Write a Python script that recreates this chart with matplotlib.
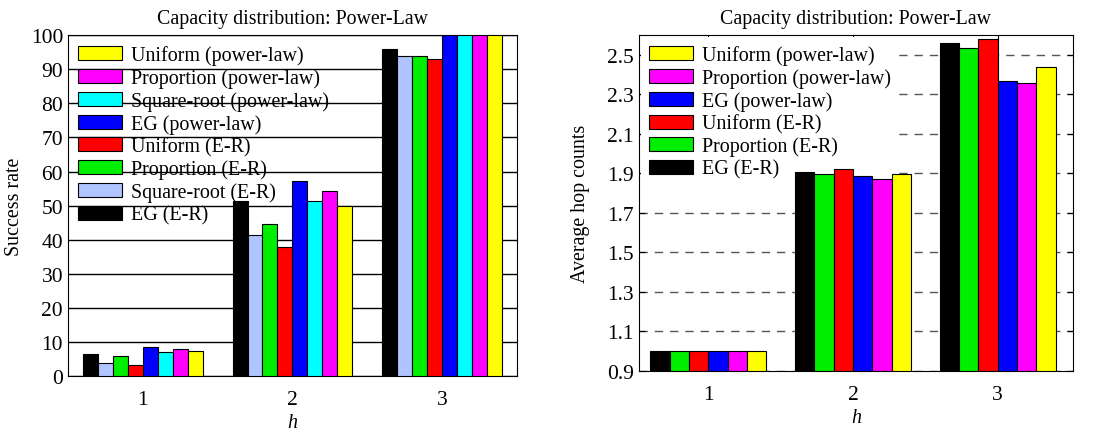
import matplotlib
matplotlib.use("Agg")
import matplotlib.pyplot as plt
import numpy as np

plt.rcParams['font.family'] = ['Liberation Serif', 'DejaVu Serif']
plt.rcParams['font.size'] = 14

h = [1, 2, 3]
title = "Capacity distribution: Power-Law"

# left: success rate (8 series, drawn left to right)
sr_labels = ["EG (E-R)", "Square-root (E-R)", "Proportion (E-R)", "Uniform (E-R)",
             "EG (power-law)", "Square-root (power-law)", "Proportion (power-law)",
             "Uniform (power-law)"]
sr_colors = ["#000000", "#b0c4ff", "#00ee00", "#ff0000", "#0000ff", "#00ffff",
             "#ff00ff", "#ffff00"]
sr_values = [
    [6.5, 51.5, 96],
    [4.0, 41.3, 94],
    [6.0, 44.5, 94],
    [3.2, 38.0, 93],
    [8.5, 57.3, 100],
    [7.0, 51.5, 100],
    [8.0, 54.3, 100],
    [7.5, 50.0, 100],
]

# right: average hop counts (6 series)
hop_labels = ["EG (E-R)", "Proportion (E-R)", "Uniform (E-R)", "EG (power-law)",
              "Proportion (power-law)", "Uniform (power-law)"]
hop_colors = ["#000000", "#00ee00", "#ff0000", "#0000ff", "#ff00ff", "#ffff00"]
hop_values = [
    [1.0, 1.905, 2.560],
    [1.0, 1.896, 2.535],
    [1.0, 1.921, 2.580],
    [1.0, 1.886, 2.369],
    [1.0, 1.871, 2.359],
    [1.0, 1.896, 2.440],
]

fig = plt.figure(figsize=(11.09, 4.35), dpi=100)
ax1 = fig.add_axes([0.0613, 0.133, 0.4047, 0.784])
ax2 = fig.add_axes([0.576, 0.145, 0.3915, 0.772])

x = np.array(h, dtype=float)


def draw_bars(ax, values, colors, labels, total=0.8, bottom=0):
    n = len(values)
    w = total / n
    handles = []
    for i in range(n):
        off = -total / 2 + w * (i + 0.5)
        vals = np.array(values[i]) - bottom
        b = ax.bar(x + off, vals, w, bottom=bottom, color=colors[i],
                   edgecolor="black", linewidth=0.8, label=labels[i], zorder=3)
        handles.append(b)
    return handles


leg_kw = dict(loc="upper left", handlelength=2.2, handleheight=0.7,
              labelspacing=0.16, handletextpad=0.45, borderaxespad=0.1,
              borderpad=0.4, fontsize=14.4)

# ---- left chart
hs1 = draw_bars(ax1, sr_values, sr_colors, sr_labels)
ax1.set_xlim(0.5, 3.5)
ax1.set_ylim(0, 100)
ax1.set_yticks(range(0, 101, 10))
ax1.set_xticks(h)
ax1.yaxis.grid(True, color="black", linewidth=1.0, zorder=0)
ax1.set_axisbelow(True)
ax1.tick_params(direction="in", length=0, labelsize=15.5)
ax1.tick_params(axis="x", pad=10)
ax1.set_title(title, fontsize=14.3, pad=9)
ax1.set_xlabel("h", style="italic", fontsize=14.4, labelpad=3)
ax1.set_ylabel("Success rate", fontsize=14.4, labelpad=5)
leg1 = ax1.legend(hs1[::-1], sr_labels[::-1], frameon=False, **leg_kw)
leg1.set_zorder(5)

# ---- right chart
hs2 = draw_bars(ax2, hop_values, hop_colors, hop_labels, bottom=0.9)
ax2.set_xlim(0.52, 3.52)
ax2.set_ylim(0.9, 2.6)
ax2.set_yticks(np.round(np.arange(0.9, 2.51, 0.2), 1))
ax2.set_xticks(h)
ax2.yaxis.grid(True, color="#555555", linewidth=1.0, linestyle=(0, (6, 5)), zorder=0)
ax2.set_axisbelow(True)
ax2.tick_params(direction="in", top=True, right=True, length=4, labelsize=15.5)
ax2.tick_params(axis="x", pad=10)
ax2.set_title(title, fontsize=14.3, pad=9)
ax2.set_xlabel("h", style="italic", fontsize=14.4, labelpad=3)
ax2.set_ylabel("Average hop counts", fontsize=14.4, labelpad=12)
leg2 = ax2.legend(hs2[::-1], hop_labels[::-1], frameon=True,
                  facecolor="white", edgecolor="none", framealpha=1, fancybox=False,
                  **leg_kw)
# legend box sits over the grid but under the bars
leg2.set_zorder(2)

fig.savefig("out.png", dpi=100)
